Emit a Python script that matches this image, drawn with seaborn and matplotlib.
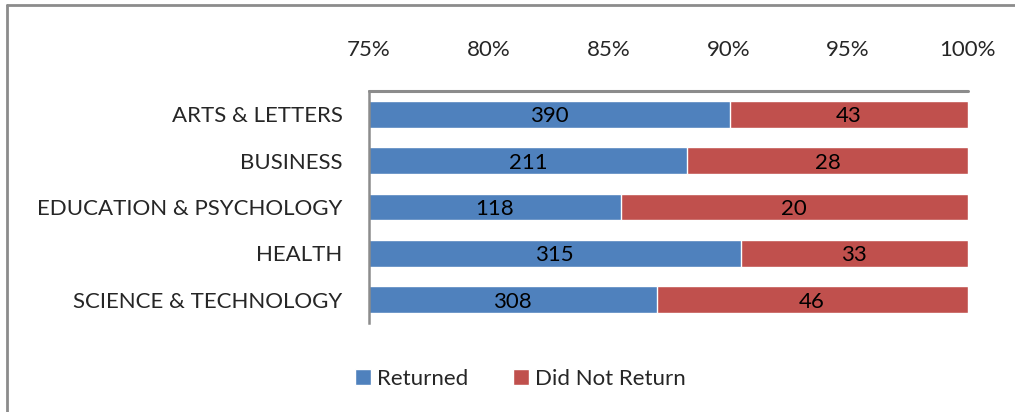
import matplotlib
matplotlib.use("Agg")
import matplotlib.pyplot as plt
from matplotlib.lines import Line2D
from matplotlib.patches import Patch
from matplotlib.ticker import PercentFormatter
import pandas as pd
import seaborn as sns

colleges = ["ARTS & LETTERS", "BUSINESS", "EDUCATION & PSYCHOLOGY", "HEALTH", "SCIENCE & TECHNOLOGY"]
returned = [390, 211, 118, 315, 308]
not_returned = [43, 28, 20, 33, 46]
x_ticks = [75, 80, 85, 90, 95, 100]

blue = "#4F81BD"
red = "#C0504D"

df = pd.DataFrame({"college": colleges, "returned": returned, "not_returned": not_returned})
df["total"] = df["returned"] + df["not_returned"]
df["pct_ret"] = df["returned"] / df["total"] * 100
df["pct_all"] = 100.0

sns.set_style("white")
plt.rcParams["font.family"] = ["Lato", "DejaVu Sans"]
fs = 16

fig = plt.figure(figsize=(10.15, 4.12), dpi=100)
ax = fig.add_axes([0.3635, 0.216, 0.590, 0.563])

sns.barplot(data=df, y="college", x="pct_all", color=red, width=0.58,
            saturation=1, orient="h", ax=ax)
sns.barplot(data=df, y="college", x="pct_ret", color=blue, width=0.58,
            saturation=1, orient="h", ax=ax)

ax.set_xlim(75, 100)
ax.set_ylim(4.5, -0.5)
ax.set_xticks(x_ticks)
ax.xaxis.set_major_formatter(PercentFormatter(decimals=0))
ax.xaxis.tick_top()
ax.tick_params(axis="x", length=0, pad=22, labelsize=fs)
ax.tick_params(axis="y", length=0, pad=19, labelsize=fs)
ax.set_xlabel("")
ax.set_ylabel("")

for s in ["right", "bottom", "top"]:
    ax.spines[s].set_visible(False)
ax.spines["left"].set_color("#8c8c8c")
ax.spines["left"].set_linewidth(1.8)

# top axis line, drawn on the figure so nothing in the axes can hide it
x0, y0, w, h = ax.get_position().bounds
fig.add_artist(Line2D([x0, x0 + w], [y0 + h, y0 + h], transform=fig.transFigure,
                      color="#8c8c8c", lw=2.2, zorder=10))

for i, row in df.iterrows():
    ax.text((75 + row["pct_ret"]) / 2, i, str(row["returned"]), ha="center",
            va="center_baseline", fontsize=fs, color="black")
    ax.text((row["pct_ret"] + 100) / 2, i, str(row["not_returned"]), ha="center",
            va="center_baseline", fontsize=fs, color="black")

handles = [Patch(facecolor=blue, label="Returned"), Patch(facecolor=red, label="Did Not Return")]
fig.legend(handles=handles, loc="center", bbox_to_anchor=(0.513, 0.081), ncol=2, frameon=False,
           fontsize=fs, handlelength=0.7, handleheight=0.7, handletextpad=0.3, columnspacing=2.0)

# chart area border (only left and top visible in the crop)
fig.add_artist(Line2D([0.0065, 0.0065], [0, 0.987], color="#8c8c8c", lw=2, transform=fig.transFigure))
fig.add_artist(Line2D([0.0065, 1], [0.987, 0.987], color="#8c8c8c", lw=2, transform=fig.transFigure))

fig.savefig("out.png", dpi=100)
